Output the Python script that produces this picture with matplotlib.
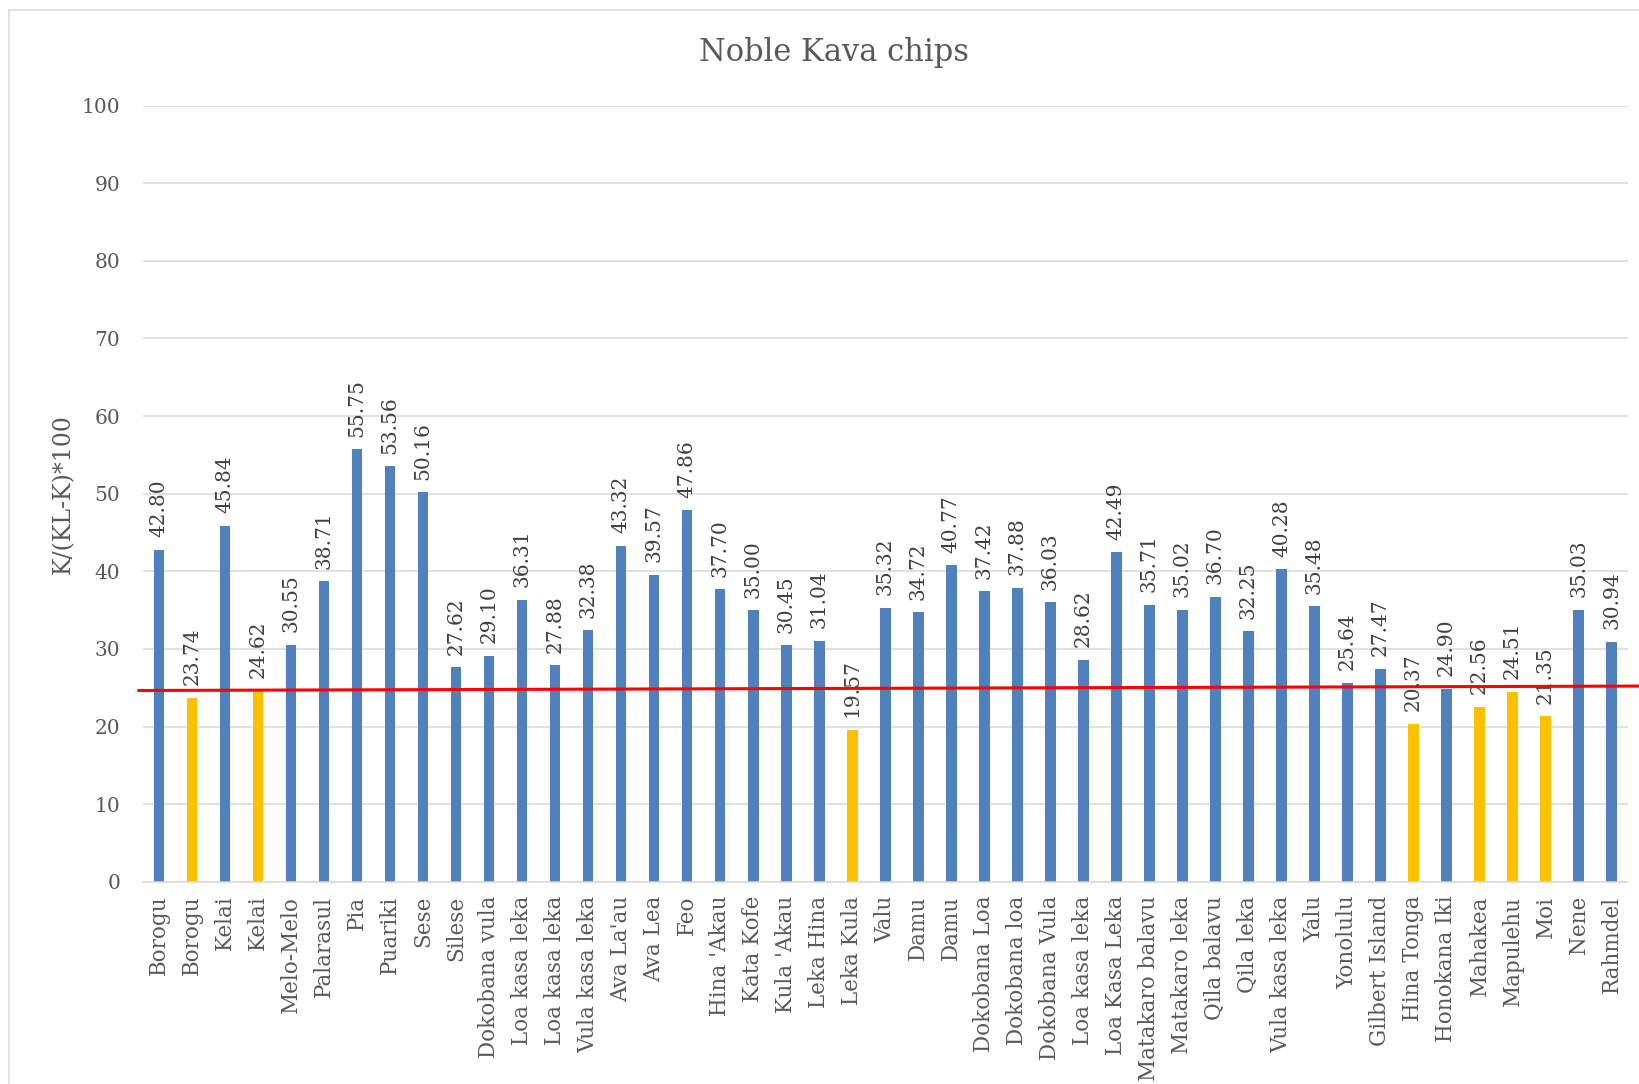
import matplotlib
matplotlib.use("Agg")
import matplotlib.pyplot as plt
from matplotlib.lines import Line2D
import numpy as np

# сорта кавы и значения K/(KL-K)*100
varieties = [
    "Borogu", "Borogu", "Kelai", "Kelai", "Melo-Melo", "Palarasul", "Pia",
    "Puariki", "Sese", "Silese", "Dokobana vula", "Loa kasa leka",
    "Loa kasa leka", "Vula kasa leka", "Ava La'au", "Ava Lea", "Feo",
    "Hina 'Akau", "Kata Kofe", "Kula 'Akau", "Leka Hina", "Leka Kula", "Valu",
    "Damu", "Damu", "Dokobana Loa", "Dokobana loa", "Dokobana Vula",
    "Loa kasa leka", "Loa Kasa Leka", "Matakaro balavu", "Matakaro leka",
    "Qila balavu", "Qila leka", "Vula kasa leka", "Yalu", "Yonolulu",
    "Gilbert Island", "Hina Tonga", "Honokana Iki", "Mahakea", "Mapulehu",
    "Moi", "Nene", "Rahmdel",
]
ratio = [
    42.80, 23.74, 45.84, 24.62, 30.55, 38.71, 55.75, 53.56, 50.16, 27.62,
    29.10, 36.31, 27.88, 32.38, 43.32, 39.57, 47.86, 37.70, 35.00, 30.45,
    31.04, 19.57, 35.32, 34.72, 40.77, 37.42, 37.88, 36.03, 28.62, 42.49,
    35.71, 35.02, 36.70, 32.25, 40.28, 35.48, 25.64, 27.47, 20.37, 24.90,
    22.56, 24.51, 21.35, 35.03, 30.94,
]
# низкие значения выделяем жёлтым
low_limit = 24.8
# красная линия уровня (концы)
level_x = [-0.61, 44.85]
level_y = [24.65, 25.22]

plt.rcParams['font.family'] = ['DejaVu Serif']

fig = plt.figure(figsize=(16.4, 10.84), dpi=100, facecolor='white')
ax = fig.add_axes([0.0869, 0.1865, 0.9058, 0.7161])

x = np.arange(len(varieties))
colors = ['#FFC000' if v < low_limit else '#4F81BD' for v in ratio]
ax.bar(x, ratio, width=0.32, color=colors, zorder=2)

# подписи значений над столбиками
for xi, v in zip(x, ratio):
    ax.annotate(f'{v:.2f}', (xi, v), xytext=(0, 9), textcoords='offset points',
                rotation=90, ha='center', va='bottom', fontsize=14.5,
                color='#404040', zorder=3)

# линия уровня
ax.plot(level_x, level_y, color='#FF0000', lw=2.2, clip_on=False, zorder=4)

ax.set_xlim(-0.5, len(varieties) - 0.5)
ax.set_ylim(0, 100)
ax.set_yticks(range(0, 101, 10))
ax.set_xticks(x)
ax.set_xticklabels(varieties, rotation=90, va='top', ha='center',
                   fontsize=15.5, color='#595959')
ax.tick_params(axis='x', length=0, pad=10)
ax.tick_params(axis='y', length=0, pad=16, labelsize=14.5, labelcolor='#595959')

ax.grid(axis='y', color='#D9D9D9', lw=1.1, zorder=0)
for side in ['left', 'right', 'top']:
    ax.spines[side].set_visible(False)
ax.spines['bottom'].set_color('#D9D9D9')
ax.spines['bottom'].set_linewidth(1.1)

ax.set_ylabel('K/(KL-K)*100', fontsize=17, color='#595959', labelpad=5)
fig.text(0.5085, 0.952, 'Noble Kava chips', ha='center', va='center',
         fontsize=22, color='#595959')

# рамка области диаграммы
fig.add_artist(Line2D([0.0052, 0.0052], [0, 0.9905], transform=fig.transFigure,
                      color='#D9D9D9', lw=1.1))
fig.add_artist(Line2D([0.0052, 1], [0.9905, 0.9905], transform=fig.transFigure,
                      color='#D9D9D9', lw=1.1))

fig.savefig('out.png', dpi=100, facecolor='white')
